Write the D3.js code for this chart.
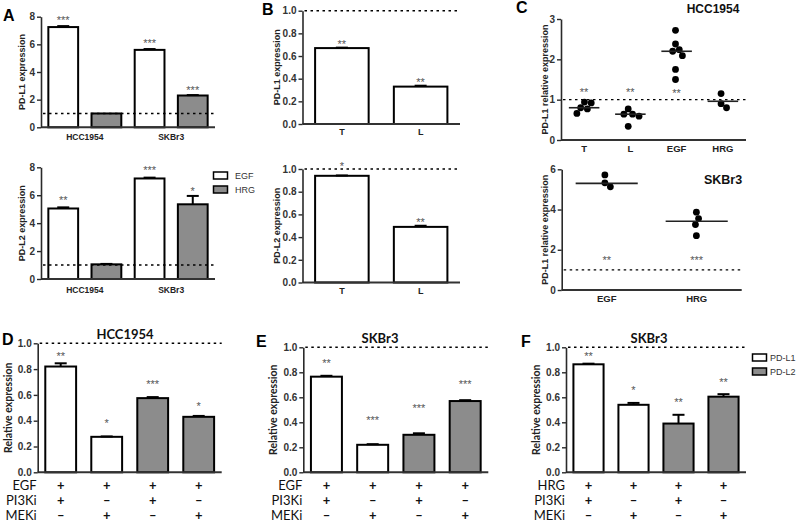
<!DOCTYPE html>
<html><head><meta charset="utf-8">
<script src="https://cdn.jsdelivr.net/npm/d3@7"></script>
<style>body{margin:0;background:#fff}svg{display:block}</style>
</head><body>
<svg id="c" width="800" height="527"></svg>
<script>
// ---------------- DATA ----------------
// Panel A (order: HCC1954 EGF, HCC1954 HRG, SKBr3 EGF, SKBr3 HRG)
const aGroups = ["HCC1954", "SKBr3"];
const aSeries = ["EGF", "HRG"];
const aTicks = [0, 2, 4, 6, 8];
const aPDL1 = [7.25, 1.0, 5.6, 2.3];
const aPDL1Err = [0.07, 0, 0.06, 0.03];
const aPDL1Stars = ["***", "", "***", "***"];
const aPDL1StarAt = [7.9, null, 6.3, 2.85];
const aPDL2 = [5.05, 1.05, 7.2, 5.35];
const aPDL2Err = [0.08, 0.03, 0.06, 0.6];
const aPDL2Stars = ["**", "", "***", "*"];
const aPDL2StarAt = [5.8, null, 8.0, 6.5];

// Panel B
const bCats = ["T", "L"];
const bTicks = [0, 0.2, 0.4, 0.6, 0.8, 1.0];
const bPDL1 = [0.67, 0.33];
const bPDL1Err = [0.004, 0.008];
const bPDL1Stars = ["**", "**"];
const bPDL1StarAt = [0.725, 0.395];
const bPDL2 = [0.94, 0.49];
const bPDL2Err = [0.003, 0.01];
const bPDL2Stars = ["*", "**"];
const bPDL2StarAt = [1.045, 0.55];

// Panel C
const cTopCats = ["T", "L", "EGF", "HRG"];
const cTopTicks = [0, 1, 2, 3];
const cTopPoints = [
  [0.94, 0.92, 0.80, 0.77, 0.66],
  [0.77, 0.64, 0.59, 0.64, 0.34],
  [2.72, 2.38, 2.24, 2.20, 2.09, 1.75, 1.50],
  [1.15, 0.90, 0.80]
];
const cTopLine = [0.80, 0.64, 2.20, 0.96];
const cTopStars = ["**", "**", "**", ""];
const cTopStarAt = [1.26, 1.26, 1.22, null];
const cBotCats = ["EGF", "HRG"];
const cBotTicks = [0, 2, 4, 6];
const cBotPoints = [
  [5.72, 5.33, 5.13],
  [3.87, 3.55, 3.25, 2.70]
];
const cBotLine = [5.3, 3.42];
const cBotStars = ["**", "***"];
const cBotStarAt = [1.63, 1.63];

// Panels D, E, F
const defSeries = ["PD-L1", "PD-L1", "PD-L2", "PD-L2"];
const defTicks = [0, 0.2, 0.4, 0.6, 0.8, 1.0];
const rowLabelsEGF = ["EGF", "PI3Ki", "MEKi"];
const rowLabelsHRG = ["HRG", "PI3Ki", "MEKi"];
const rowSigns = [
  ["+", "+", "+", "+"],
  ["+", "\u2013", "+", "\u2013"],
  ["\u2013", "+", "\u2013", "+"]
];
const dValues = [0.82, 0.275, 0.575, 0.43];
const dErr = [0.025, 0.003, 0.008, 0.007];
const dStars = ["**", "*", "***", "*"];
const dStarAt = [0.92, 0.40, 0.70, 0.53];
const eValues = [0.765, 0.22, 0.30, 0.57];
const eErr = [0.007, 0.005, 0.012, 0.007];
const eStars = ["**", "***", "***", "***"];
const eStarAt = [0.895, 0.435, 0.53, 0.725];
const fValues = [0.864, 0.54, 0.39, 0.605];
const fErr = [0.005, 0.015, 0.07, 0.02];
const fStars = ["**", "*", "**", "**"];
const fStarAt = [0.95, 0.68, 0.58, 0.74];

// ---------------- DRAWING ----------------
const svg = d3.select("#c");
svg.append("rect").attr("width", 800).attr("height", 527).attr("fill", "#fff");
const AX = "#2a2a2a";
const GRAY = "#8c8c8c";
const ARIAL = "'Liberation Sans', Arial, sans-serif";
const CAL = "Lato, 'Open Sans', sans-serif";
const fillOf = s => (s === "EGF" || s === "PD-L1") ? "#fff" : GRAY;

function yAxis(g, y, x, ticks, fmt, fs) {
  const a = g.append("g").attr("transform", `translate(${x},0)`)
    .call(d3.axisLeft(y).tickValues(ticks).tickFormat(fmt).tickSize(4).tickSizeOuter(0).tickPadding(2));
  a.select(".domain").attr("stroke", AX).attr("stroke-width", 1.6);
  a.selectAll(".tick line").attr("stroke", AX).attr("stroke-width", 1.4);
  a.selectAll(".tick text").attr("fill", "#333").attr("font-family", ARIAL)
    .attr("font-weight", "bold").attr("font-size", fs);
  return a;
}
function xLine(g, x0, x1, y0) {
  g.append("line").attr("x1", x0).attr("x2", x1).attr("y1", y0).attr("y2", y0)
    .attr("stroke", "#333").attr("stroke-width", 2);
}
function dashed(g, x0, x1, yv) {
  g.append("line").attr("x1", x0).attr("x2", x1).attr("y1", yv).attr("y2", yv)
    .attr("stroke", "#000").attr("stroke-width", 1.4).attr("stroke-dasharray", "2.5,3.5");
}
function yLabel(g, text, x, yc, fs, fam) {
  g.append("text").attr("transform", `translate(${x},${yc}) rotate(-90)`)
    .attr("text-anchor", "middle").attr("font-family", fam || ARIAL).attr("font-weight", "bold")
    .attr("font-size", fs).attr("fill", "#222").text(text);
}
function stars(g, xs, y, labels, at, fs) {
  labels.forEach((s, i) => {
    if (!s) return;
    g.append("text").attr("x", xs[i]).attr("y", y(at[i]) + fs * 0.58)
      .attr("text-anchor", "middle").attr("font-family", ARIAL)
      .attr("font-size", fs).attr("fill", "#555").text(s);
  });
}
function panelLetter(t, x, y) {
  svg.append("text").attr("x", x).attr("y", y).attr("font-family", ARIAL)
    .attr("font-weight", "bold").attr("font-size", 16).attr("fill", "#000").text(t);
}

function barPanel(o) {
  const g = svg.append("g");
  const y = d3.scaleLinear().domain([0, o.max]).range([o.y0, o.y1]);
  const keys = o.values.map((d, i) => "b" + i);
  const x = d3.scaleBand().domain(keys).range([o.x0, o.x1]).paddingInner(o.pi).paddingOuter(o.po);
  const cx = keys.map(k => x(k) + x.bandwidth() / 2);
  g.selectAll("rect.bar").data(o.values).join("rect").attr("class", "bar")
    .attr("x", (d, i) => x(keys[i])).attr("width", x.bandwidth())
    .attr("y", d => y(d)).attr("height", d => y(0) - y(d))
    .attr("fill", (d, i) => fillOf(o.series[i])).attr("stroke", "#000").attr("stroke-width", 2);
  // error bars (upper only)
  o.values.forEach((v, i) => {
    const e = o.errs[i];
    if (!e) return;
    g.append("line").attr("x1", cx[i]).attr("x2", cx[i]).attr("y1", y(v)).attr("y2", y(v + e))
      .attr("stroke", "#000").attr("stroke-width", 2);
    g.append("line").attr("x1", cx[i] - 6).attr("x2", cx[i] + 6).attr("y1", y(v + e)).attr("y2", y(v + e))
      .attr("stroke", "#000").attr("stroke-width", 2);
  });
  dashed(g, o.x0 + 2, o.dashEnd || o.x1, y(1));
  xLine(g, o.x0, o.x1, y(0));
  yAxis(g, y, o.x0, o.ticks, o.fmt, o.tickFs);
  stars(g, cx, y, o.stars, o.starAt, o.starFs || 11);
  return { g, x, y, cx };
}

// ---------- Panel A ----------
panelLetter("A", 3, 21);
[[aPDL1, aPDL1Err, aPDL1Stars, aPDL1StarAt, 127.3, 16.7, "PD-L1 expression", 137],
 [aPDL2, aPDL2Err, aPDL2Stars, aPDL2StarAt, 279, 167.3, "PD-L2 expression", 290]].forEach(p => {
  const r = barPanel({
    values: p[0], errs: p[1], stars: p[2], starAt: p[3],
    series: [aSeries[0], aSeries[1], aSeries[0], aSeries[1]],
    max: 8, y0: p[4], y1: p[5], x0: 41, x1: 215, pi: 0.31, po: 0.17,
    ticks: aTicks, fmt: d3.format("d"), tickFs: 10, dashEnd: 214
  });
  aGroups.forEach((gname, gi) => {
    r.g.append("text").attr("x", (r.cx[gi * 2] + r.cx[gi * 2 + 1]) / 2).attr("y", p[7] + 3)
      .attr("text-anchor", "middle").attr("font-family", ARIAL).attr("font-weight", "bold")
      .attr("font-size", 8.5).attr("fill", "#222").text(gname);
  });
  yLabel(r.g, p[6], 25, (p[4] + p[5]) / 2, 9);
});
// Legend A
aSeries.forEach((s, i) => {
  svg.append("rect").attr("x", 213.5).attr("y", 172 + i * 14).attr("width", 14).attr("height", 7)
    .attr("fill", fillOf(s)).attr("stroke", "#000").attr("stroke-width", 1.5);
  svg.append("text").attr("x", 235).attr("y", 179 + i * 14).attr("font-family", ARIAL)
    .attr("font-size", 9).attr("fill", "#333").text(s);
});

// ---------- Panel B ----------
panelLetter("B", 262, 15);
[[bPDL1, bPDL1Err, bPDL1Stars, bPDL1StarAt, 124, 10.7, "PD-L1 expression"],
 [bPDL2, bPDL2Err, bPDL2Stars, bPDL2StarAt, 282.5, 169, "PD-L2 expression"]].forEach(p => {
  const r = barPanel({
    values: p[0], errs: p[1], stars: p[2], starAt: p[3], series: ["EGF", "EGF"],
    max: 1, y0: p[4], y1: p[5], x0: 302.5, x1: 460, pi: 0.32, po: 0.16,
    ticks: bTicks, fmt: d3.format(".1f"), tickFs: 10
  });
  bCats.forEach((c, i) => {
    r.g.append("text").attr("x", r.cx[i]).attr("y", p[4] + 11).attr("text-anchor", "middle")
      .attr("font-family", ARIAL).attr("font-weight", "bold").attr("font-size", 9).attr("fill", "#222").text(c);
  });
  yLabel(r.g, p[6], 280, (p[4] + p[5]) / 2, 9);
});

// ---------- Panel C ----------
panelLetter("C", 516, 13);
function swarm(vals, y, r) {
  const order = vals.map((v, i) => i).sort((a, b) => vals[b] - vals[a]);
  const placed = [];
  const off = new Array(vals.length).fill(0);
  order.forEach(i => {
    const py = y(vals[i]);
    const cands = [0];
    placed.forEach(p => {
      const dy = Math.abs(py - p.y);
      if (dy < 2 * r) { const dx = Math.sqrt(4 * r * r - dy * dy); cands.push(p.x + dx, p.x - dx); }
    });
    cands.sort((a, b) => Math.abs(a) - Math.abs(b));
    const ok = cands.find(cx => placed.every(p => Math.hypot(cx - p.x, py - p.y) >= 2 * r - 1e-6));
    off[i] = ok;
    placed.push({ x: ok, y: py });
  });
  const m = d3.mean(off);
  return off.map(o => o - m);
}
function scatterPanel(o) {
  const g = svg.append("g");
  const y = d3.scaleLinear().domain([0, o.max]).range([o.y0, o.y1]);
  const x = d3.scaleBand().domain(o.cats).range([o.x0, o.x1]);
  const R = 3.4;
  dashed(g, o.x0 + 2, o.x1, y(1));
  o.points.forEach((vals, ci) => {
    const cx = x(o.cats[ci]) + x.bandwidth() / 2;
    const offs = swarm(vals, y, R);
    g.selectAll(null).data(vals).join("circle")
      .attr("cx", (d, i) => cx + offs[i]).attr("cy", d => y(d)).attr("r", R).attr("fill", "#000");
    const hw = x.bandwidth() * o.lineFrac / 2;
    g.append("line").attr("x1", cx - hw).attr("x2", cx + hw).attr("y1", y(o.line[ci])).attr("y2", y(o.line[ci]))
      .attr("stroke", "#222").attr("stroke-width", 1.6);
    g.append("text").attr("x", cx).attr("y", o.y0 + 12).attr("text-anchor", "middle")
      .attr("font-family", ARIAL).attr("font-weight", "bold").attr("font-size", 9.5).attr("fill", "#222").text(o.cats[ci]);
  });
  xLine(g, o.x0, o.x1, y(0));
  yAxis(g, y, o.x0, o.ticks, d3.format("d"), 10);
  stars(g, o.cats.map(c => x(c) + x.bandwidth() / 2), y, o.stars, o.starAt, 11);
  yLabel(g, "PD-L1 relative expression", 548, (o.y0 + o.y1) / 2, 9);
  g.append("text").attr("x", o.tx).attr("y", o.ty).attr("text-anchor", "middle").attr("font-family", ARIAL)
    .attr("font-weight", "bold").attr("font-size", o.tfs).attr("fill", "#111").text(o.title);
}
scatterPanel({ cats: cTopCats, points: cTopPoints, line: cTopLine, stars: cTopStars, starAt: cTopStarAt,
  max: 3, y0: 140, y1: 19, x0: 561, x1: 746, ticks: cTopTicks, lineFrac: 0.66,
  title: "HCC1954", tx: 713, ty: 13, tfs: 12 });
scatterPanel({ cats: cBotCats, points: cBotPoints, line: cBotLine, stars: cBotStars, starAt: cBotStarAt,
  max: 6, y0: 290, y1: 169.3, x0: 561.7, x1: 741.7, ticks: cBotTicks, lineFrac: 0.69,
  title: "SKBr3", tx: 723, ty: 184, tfs: 12.5 });

// ---------- Panels D, E, F ----------
function defPanel(o) {
  const r = barPanel({
    values: o.values, errs: o.errs, stars: o.stars, starAt: o.starAt, series: defSeries,
    max: 1, y0: o.y0, y1: o.y1, x0: o.x0, x1: o.x1, pi: 0.33, po: 0.165,
    ticks: defTicks, fmt: d3.format(".1f"), tickFs: 10, starFs: 11
  });
  const rowY = [485.5, 500.5, 515.5];
  o.rows.forEach((lab, ri) => {
    r.g.append("text").attr("x", o.x0 - 1).attr("y", rowY[ri]).attr("dy", "0.36em").attr("text-anchor", "end")
      .attr("font-family", CAL).attr("font-size", 13).attr("fill", "#111").text(lab);
    rowSigns[ri].forEach((s, i) => {
      r.g.append("text").attr("x", r.cx[i]).attr("y", rowY[ri]).attr("dy", "0.36em").attr("text-anchor", "middle")
        .attr("font-family", CAL).attr("font-weight", "bold").attr("font-size", 13).attr("fill", "#111").text(s);
    });
  });
  yLabel(r.g, "Relative expression", o.x0 - 26, (o.y0 + o.y1) / 2, 10.5, CAL);
  r.g.append("text").attr("x", o.tx).attr("y", o.y1 - 4).attr("text-anchor", "middle").attr("font-family", CAL)
    .attr("font-weight", "bold").attr("font-size", 13).attr("fill", "#111").text(o.title);
}
panelLetter("D", 2, 345);
defPanel({ values: dValues, errs: dErr, stars: dStars, starAt: dStarAt, rows: rowLabelsEGF,
  x0: 37.7, x1: 221.7, y0: 472.3, y1: 343.3, title: "HCC1954", tx: 125 });
panelLetter("E", 256, 347);
defPanel({ values: eValues, errs: eErr, stars: eStars, starAt: eStarAt, rows: rowLabelsEGF,
  x0: 303.3, x1: 488.3, y0: 472.3, y1: 347.3, title: "SKBr3", tx: 380 });
panelLetter("F", 521, 347);
defPanel({ values: fValues, errs: fErr, stars: fStars, starAt: fStarAt, rows: rowLabelsHRG,
  x0: 566, x1: 746, y0: 472.3, y1: 347.3, title: "SKBr3", tx: 649 });
// Legend F
["PD-L1", "PD-L2"].forEach((s, i) => {
  svg.append("rect").attr("x", 752.5).attr("y", 354 + i * 14).attr("width", 14).attr("height", 7)
    .attr("fill", fillOf(s)).attr("stroke", "#000").attr("stroke-width", 1.5);
  svg.append("text").attr("x", 770).attr("y", 361 + i * 14).attr("font-family", ARIAL)
    .attr("font-size", 9).attr("fill", "#333").text(s);
});
</script>
</body></html>
